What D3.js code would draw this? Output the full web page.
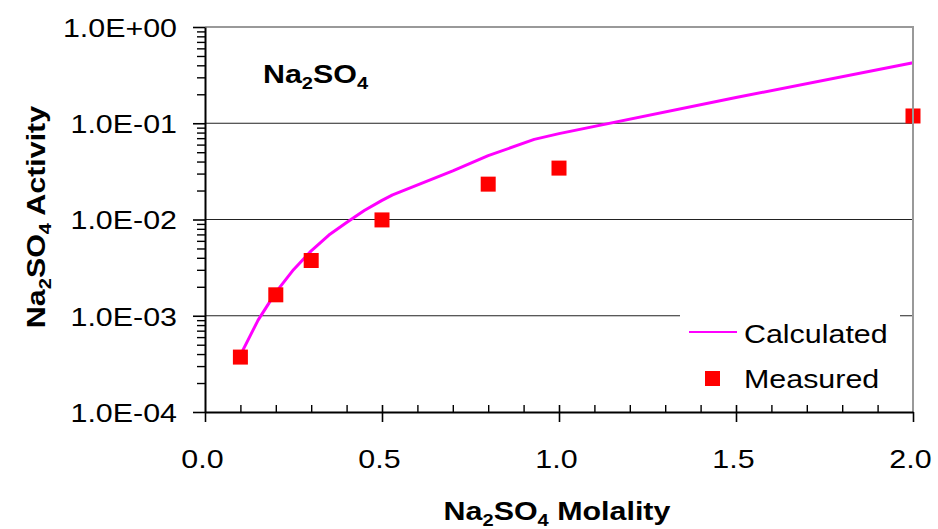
<!DOCTYPE html>
<html><head><meta charset="utf-8">
<script src="https://cdn.jsdelivr.net/npm/d3@7"></script>
<style>body{margin:0;background:#fff}svg{display:block}text{font-family:"Liberation Sans",Arial,sans-serif;fill:#000}</style>
</head><body><svg id="c" width="938" height="529"></svg>
<script>
const calcX = [0.1, 0.15, 0.2, 0.25, 0.3, 0.35, 0.4, 0.45, 0.5, 0.53, 0.7, 0.8, 0.93, 1.0, 1.5, 2.0];
const calcY = [3.9e-4, 9.0e-4, 1.75e-3, 3.01e-3, 4.72e-3, 6.9e-3, 9.3e-3, 1.24e-2, 1.58e-2, 1.8e-2, 3.2e-2, 4.6e-2, 6.8e-2, 7.8e-2, 0.185, 0.425];
const measX = [0.1, 0.2, 0.3, 0.5, 0.8, 1.0, 2.0];
const measY = [3.72e-4, 1.65e-3, 3.75e-3, 9.9e-3, 2.33e-2, 3.42e-2, 0.119];
const xTicks = [0.0, 0.5, 1.0, 1.5, 2.0];
const yTicks = [1e-4, 1e-3, 1e-2, 1e-1, 1e0];
const yTickLabels = ["1.0E-04", "1.0E-03", "1.0E-02", "1.0E-01", "1.0E+00"];
const seriesNames = ["Calculated", "Measured"];

const SX = 1.17;
const svg = d3.select("#c");
const L = 205, R = 913, T = 27, B = 412;
const x = d3.scaleLinear().domain([0, 2]).range([L, R]);
const y = d3.scaleLog().domain([1e-4, 1]).range([B, T]);

// gridlines
svg.append("g").selectAll("line").data([1e-3, 1e-2, 1e-1]).join("line")
  .attr("x1", L).attr("x2", R).attr("y1", d => y(d)).attr("y2", d => y(d))
  .attr("stroke", "#222").attr("stroke-width", 1.2);

// legend background
svg.append("rect").attr("x", 680).attr("y", 308).attr("width", 220).attr("height", 96).attr("fill", "#fff");

// calculated line
svg.append("path").datum(calcX.map((v, i) => [v, calcY[i]]))
  .attr("d", d3.line().x(d => x(d[0])).y(d => y(d[1])))
  .attr("fill", "none").attr("stroke", "#ff00ff").attr("stroke-width", 3).attr("stroke-linejoin", "round");

// measured squares
const S = 15;
svg.append("g").selectAll("rect").data(measX.map((v, i) => [v, measY[i]])).join("rect")
  .attr("x", d => x(d[0]) - S / 2).attr("y", d => y(d[1]) - S / 2)
  .attr("width", S).attr("height", S).attr("fill", "#ff0000");

// top & right border (gray)
svg.append("path").attr("d", `M${L},${T}H${R}V${B}`).attr("fill", "none")
  .attr("stroke", "#999").attr("stroke-width", 2);

// y axis
const minorY = [];
for (let e = -4; e < 0; e++) for (let k = 2; k <= 9; k++) minorY.push(k * Math.pow(10, e));
const yMinor = svg.append("g").attr("transform", `translate(${L},0)`)
  .call(d3.axisLeft(y).tickValues(minorY).tickSize(8).tickFormat(""));
yMinor.select(".domain").remove();
const yMajor = svg.append("g").attr("transform", `translate(${L},0)`)
  .call(d3.axisLeft(y).tickValues(yTicks).tickSizeInner(12).tickSizeOuter(0).tickPadding(16)
    .tickFormat((d, i) => yTickLabels[i]));
yMajor.select(".domain").attr("stroke-width", 2);
yMajor.selectAll(".tick line").attr("stroke-width", 1.6);
yMinor.selectAll(".tick line").attr("stroke-width", 1.4);
yMajor.selectAll("text").attr("font-size", 26).attr("x", -28 / SX).attr("dy", "0.36em")
  .attr("transform", `scale(${SX},1)`).style("font-family", '"Liberation Sans",Arial,sans-serif');

// x axis
const minorX = d3.range(1, 20).map(i => i / 10).filter(v => Math.abs(v * 2 - Math.round(v * 2)) > 1e-6);
const xMinor = svg.append("g").attr("transform", `translate(0,${B})`)
  .call(d3.axisBottom(x).tickValues(minorX).tickSize(-7).tickFormat(""));
xMinor.select(".domain").remove();
xMinor.selectAll(".tick line").attr("stroke-width", 1.4);
const xMajor = svg.append("g").attr("transform", `translate(0,${B})`)
  .call(d3.axisBottom(x).tickValues(xTicks).tickSizeInner(10).tickSizeOuter(0)
    .tickFormat(d3.format(".1f")));
xMajor.select(".domain").attr("stroke-width", 2);
xMajor.selectAll(".tick line").attr("stroke-width", 1.6).attr("y1", d => d === 0 || d === 2 ? 0 : -7);
xMajor.selectAll("text").attr("font-size", 26).attr("y", 56).attr("dy", null).attr("x", 0)
  .attr("transform", `translate(-3,0) scale(${SX},1)`)
  .style("font-family", '"Liberation Sans",Arial,sans-serif');

// titles with subscripts
function chem(g, rest, size) {
  const t = g.append("text").attr("font-weight", "bold").attr("font-size", size);
  t.append("tspan").text("Na");
  t.append("tspan").attr("font-size", size * 0.66).attr("dy", size * 0.22).text("2");
  t.append("tspan").attr("dy", -size * 0.22).text("SO");
  t.append("tspan").attr("font-size", size * 0.66).attr("dy", size * 0.22).text("4");
  if (rest) t.append("tspan").attr("dy", -size * 0.22).text(rest);
  return t;
}
chem(svg.append("g").attr("transform", `translate(557,520) scale(${SX},1)`), " Molality", 26)
  .attr("text-anchor", "middle");
chem(svg.append("g").attr("transform", `translate(45,217) rotate(-90) scale(${SX},1)`), " Activity", 26)
  .attr("text-anchor", "middle");
chem(svg.append("g").attr("transform", `translate(263,83) scale(${SX},1)`), "", 26);

// legend
const lg = svg.append("g");
lg.append("line").attr("x1", 689).attr("x2", 737).attr("y1", 332).attr("y2", 332)
  .attr("stroke", "#ff00ff").attr("stroke-width", 2);
lg.append("rect").attr("x", 705).attr("y", 371).attr("width", 15).attr("height", 15).attr("fill", "#ff0000");
seriesNames.forEach((n, i) => {
  lg.append("text").attr("transform", `translate(744,${343 + i * 45}) scale(${SX},1)`)
    .attr("font-size", 26).text(n);
});
</script></body></html>
